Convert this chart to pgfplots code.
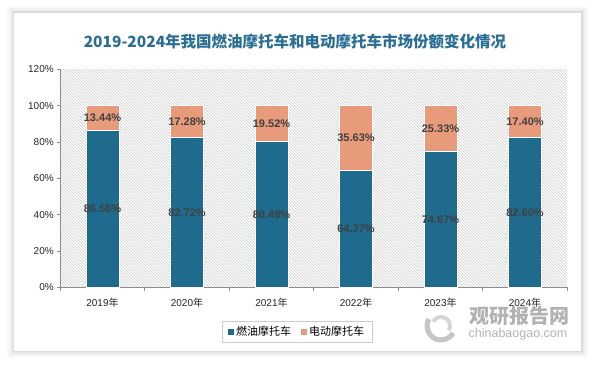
\documentclass[border=0pt]{standalone}
\usepackage{pgfplots}
\pgfplotsset{compat=1.18}
\usepackage{pgfplotstable}
\usepackage{fontspec}
\setmainfont{Liberation Sans}
\newfontfamily\cjk{Noto Sans CJK SC}
\usetikzlibrary{patterns}
\definecolor{oil}{HTML}{1F6B8E}
\definecolor{ele}{HTML}{E89B7B}
\definecolor{ttl}{HTML}{2A6E94}
\definecolor{lbl}{HTML}{404040}
\definecolor{axgray}{HTML}{8C8C8C}
\pgfplotstableread{
x oil ele
0 86.56 13.44
1 82.72 17.28
2 80.48 19.52
3 64.37 35.63
4 74.67 25.33
5 82.60 17.40
}\shares
\begin{document}
\begin{tikzpicture}
\path[use as bounding box] (0pt,0pt) rectangle (594pt,366pt);
\fill[white] (0pt,0pt) rectangle (594pt,366pt);
\foreach \i/\o in {7/0.02,5/0.03,3/0.04,1.5/0.05}{\fill[black,opacity=\o] (14pt-\i pt,15pt-\i pt) rectangle (581pt+\i pt,353pt+\i pt);}
\fill[white] (14pt,15pt) rectangle (581pt,353pt);
\node[font=\cjk\bfseries\fontsize{15.5}{18}\selectfont, text=ttl] at (295pt,324pt) {2019-2024年我国燃油摩托车和电动摩托车市场份额变化情况};
\begin{axis}[
  at={(60.25pt,78.5pt)}, anchor=south west,
  scale only axis, width=507pt, height=218pt,
  ybar stacked, bar width=33pt,
  xmin=-0.5, xmax=5.5, ymin=0, ymax=120,
  axis background/.style={pattern=north west lines, pattern color=black!20},
  axis x line*=bottom, axis y line*=left,
  axis line style={axgray, line width=0.8pt},
  tick align=outside,
  xtick={0,...,5},
  xticklabels={2019{\cjk 年},2020{\cjk 年},2021{\cjk 年},2022{\cjk 年},2023{\cjk 年},2024{\cjk 年}},
  major x tick style={draw=none},
  minor xtick={-0.5,0.5,1.5,2.5,3.5,4.5,5.5},
  minor tick length=4pt,
  minor x tick style={axgray, line width=0.8pt},
  ytick={0,20,40,60,80,100,120},
  yticklabels={0\%,20\%,40\%,60\%,80\%,100\%,120\%},
  major tick length=3pt,
  y tick style={axgray, line width=0.8pt},
  tick label style={font=\fontsize{10}{12}\selectfont, text=black!85},
  xticklabel style={yshift=-4pt},
  /pgf/number format/assume math mode=true,
  point meta=explicit,
  nodes near coords={\pgfmathprintnumber[fixed,fixed zerofill,precision=2]{\pgfplotspointmeta}\%},
  every node near coord/.append style={anchor=center, font=\bfseries\fontsize{11}{13}\selectfont, text=lbl},
  legend style={at={(0.467,-0.204)}, anchor=center, draw=black!20, line width=0.8pt, legend columns=2, font=\cjk\fontsize{11}{13}\selectfont, /tikz/every even column/.append style={column sep=8pt}, inner xsep=6pt, inner ysep=3pt},
  legend image code/.code={\path[#1,draw=none] (0pt,-3pt) rectangle (6pt,3pt);},
]
\addplot[fill=oil, draw=white, line width=1pt] table[x=x, y=oil, meta=oil] {\shares};
\addplot[fill=ele, draw=white, line width=1pt] table[x=x, y=ele, meta=ele] {\shares};
\legend{燃油摩托车,电动摩托车}
\end{axis}
% watermark
\begin{scope}[opacity=0.75]
\draw[black!30, line width=5pt] (441pt,40pt) ++(150:14pt) arc[start angle=150, end angle=330, radius=14pt];
\draw[black!22, line width=4pt] (441pt,40pt) ++(-30:9pt) arc[start angle=-30, end angle=150, radius=9pt];
\node[font=\cjk\bfseries\fontsize{20}{22}\selectfont, text=black!40] at (519pt,50pt) {观研报告网};
\node[font=\fontsize{12.5}{14}\selectfont, text=black!40] at (518pt,32pt) {chinabaogao.com};
\end{scope}
\end{tikzpicture}
\end{document}
